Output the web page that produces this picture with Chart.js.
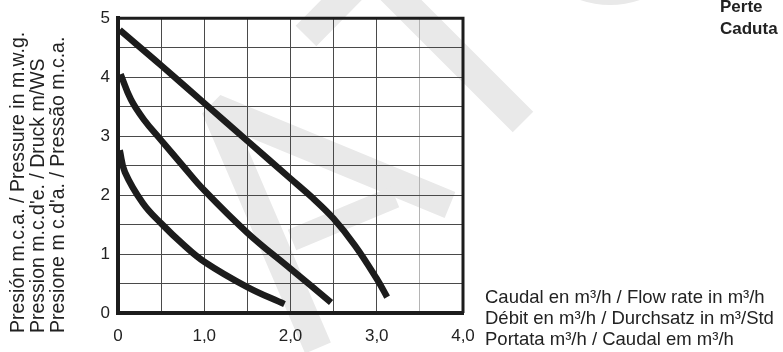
<!DOCTYPE html>
<html>
<head>
<meta charset="utf-8">
<script src="https://cdn.jsdelivr.net/npm/chart.js@4.4.1/dist/chart.umd.min.js"></script>
<style>
html, body { margin: 0; padding: 0; background: #fff; }
#wrap { width: 783px; height: 352px; }
</style>
</head>
<body>
<div id="wrap"><canvas id="pumpChart" width="783" height="352"></canvas></div>
<script>
// Curvas caudal (m3/h) / presión (m.c.a.)
const flowHigh = [0.02, 0.5, 1.0, 1.5, 2.0, 2.25, 2.5, 2.75, 3.0, 3.12];
const headHigh = [4.8, 4.2, 3.56, 2.92, 2.28, 1.96, 1.6, 1.14, 0.58, 0.27];

const flowMid = [0.03, 0.15, 0.3, 0.5, 0.75, 1.0, 1.5, 2.0, 2.47];
const headMid = [4.05, 3.62, 3.28, 2.93, 2.5, 2.08, 1.36, 0.75, 0.18];

const flowLow = [0.02, 0.08, 0.29, 0.5, 0.75, 1.0, 1.5, 1.93];
const headLow = [2.76, 2.39, 1.86, 1.52, 1.17, 0.87, 0.44, 0.15];

const xTickLabels = { 0: '0', 1: '1,0', 2: '2,0', 3: '3,0', 4: '4,0' };
const yTickLabels = { 0: '0', 1: '1', 2: '2', 3: '3', 4: '4', 5: '5' };

const yTitleLines = [
    'Presión m.c.a. / Pressure in m.w.g.',
    'Pression m.c.d\'e. / Druck m/WS',
    'Presione m c.d\'a. / Pressão m.c.a.'
];
const xTitleLines = [
    'Caudal en m³/h / Flow rate in m³/h',
    'Débit en m³/h / Durchsatz in m³/Std',
    'Portata m³/h / Caudal em m³/h'
];

const toPoints = (xs, ys) => xs.map((x, i) => ({ x: x, y: ys[i] }));

const curveStyle = {
    borderColor: '#1c1c1c',
    borderWidth: 6.5,
    pointRadius: 0,
    fill: false,
    tension: 0.4
};

// marca de agua gris clara al fondo
const watermark = {
    id: 'watermark',
    beforeDraw(chart) {
        const ctx = chart.ctx;
        ctx.save();
        ctx.strokeStyle = '#e9e9e9';
        ctx.lineCap = 'butt';
        ctx.lineJoin = 'bevel';
        ctx.lineWidth = 28;
        ctx.beginPath();
        ctx.moveTo(318, 348);
        ctx.lineTo(215, 108);
        ctx.lineTo(450, 205);
        ctx.stroke();
        ctx.lineWidth = 22;
        ctx.beginPath();
        ctx.moveTo(292, 240);
        ctx.lineTo(395, 197);
        ctx.stroke();
        ctx.lineWidth = 29;
        ctx.beginPath();
        ctx.moveTo(306, 36);
        ctx.lineTo(371, -30);
        ctx.lineTo(523, 122);
        ctx.stroke();
        ctx.lineWidth = 28;
        ctx.beginPath();
        ctx.arc(610, -87, 78, 0, Math.PI * 2);
        ctx.stroke();
        ctx.restore();
    }
};

const frameAndText = {
    id: 'frameAndText',
    afterDraw(chart) {
        const ctx = chart.ctx;
        const a = chart.chartArea;
        ctx.save();
        ctx.strokeStyle = '#1c1c1c';
        ctx.lineWidth = 3;
        ctx.beginPath();
        ctx.moveTo(a.left, a.top);
        ctx.lineTo(a.right, a.top);
        ctx.lineTo(a.right, a.bottom);
        ctx.stroke();

        ctx.fillStyle = '#222';
        ctx.font = '19.5px "Liberation Sans", Arial, sans-serif';
        ctx.textBaseline = 'middle';
        ctx.textAlign = 'left';
        yTitleLines.forEach((t, i) => {
            ctx.save();
            ctx.translate(19 + i * 20, 333);
            ctx.rotate(-Math.PI / 2);
            ctx.fillText(t, 0, 0);
            ctx.restore();
        });

        ctx.font = '18.5px "Liberation Sans", Arial, sans-serif';
        ctx.textBaseline = 'alphabetic';
        xTitleLines.forEach((t, i) => {
            ctx.fillText(t, 485, 303 + i * 21);
        });

        ctx.font = 'bold 17px "Liberation Sans", Arial, sans-serif';
        ctx.fillText('Perte', 720, 12);
        ctx.fillText('Caduta', 720, 34);
        ctx.restore();
    }
};

new Chart(document.getElementById('pumpChart'), {
    type: 'line',
    data: {
        datasets: [
            Object.assign({ label: 'Alta', data: toPoints(flowHigh, headHigh) }, curveStyle),
            Object.assign({ label: 'Media', data: toPoints(flowMid, headMid) }, curveStyle),
            Object.assign({ label: 'Baja', data: toPoints(flowLow, headLow) }, curveStyle)
        ]
    },
    options: {
        responsive: false,
        animation: false,
        devicePixelRatio: 1,
        layout: {
            padding: { left: 0, top: 14, right: 320, bottom: 0 }
        },
        plugins: {
            legend: { display: false },
            title: { display: false },
            tooltip: { enabled: false }
        },
        scales: {
            x: {
                type: 'linear',
                min: 0,
                max: 4,
                afterFit: (scale) => { scale.height = 39; },
                ticks: {
                    stepSize: 0.5,
                    autoSkip: false,
                    maxRotation: 0,
                    padding: 13,
                    color: '#222',
                    font: { family: '"Liberation Sans", Arial, sans-serif', size: 17 },
                    callback: (v) => xTickLabels[v] ?? ''
                },
                grid: {
                    drawTicks: false,
                    lineWidth: 1,
                    color: (c) => c.tick && c.tick.value === 3.5 ? '#b4b4b4' : '#4a4a4a'
                },
                border: { color: '#1c1c1c', width: 4 }
            },
            y: {
                min: 0,
                max: 5,
                afterFit: (scale) => { scale.width = 118; },
                ticks: {
                    stepSize: 0.5,
                    autoSkip: false,
                    padding: 8,
                    color: '#222',
                    font: { family: '"Liberation Sans", Arial, sans-serif', size: 17 },
                    callback: (v) => yTickLabels[v] ?? ''
                },
                grid: {
                    drawTicks: false,
                    lineWidth: 1,
                    color: '#4a4a4a'
                },
                border: { color: '#1c1c1c', width: 4 }
            }
        }
    },
    plugins: [watermark, frameAndText]
});
</script>
</body>
</html>
